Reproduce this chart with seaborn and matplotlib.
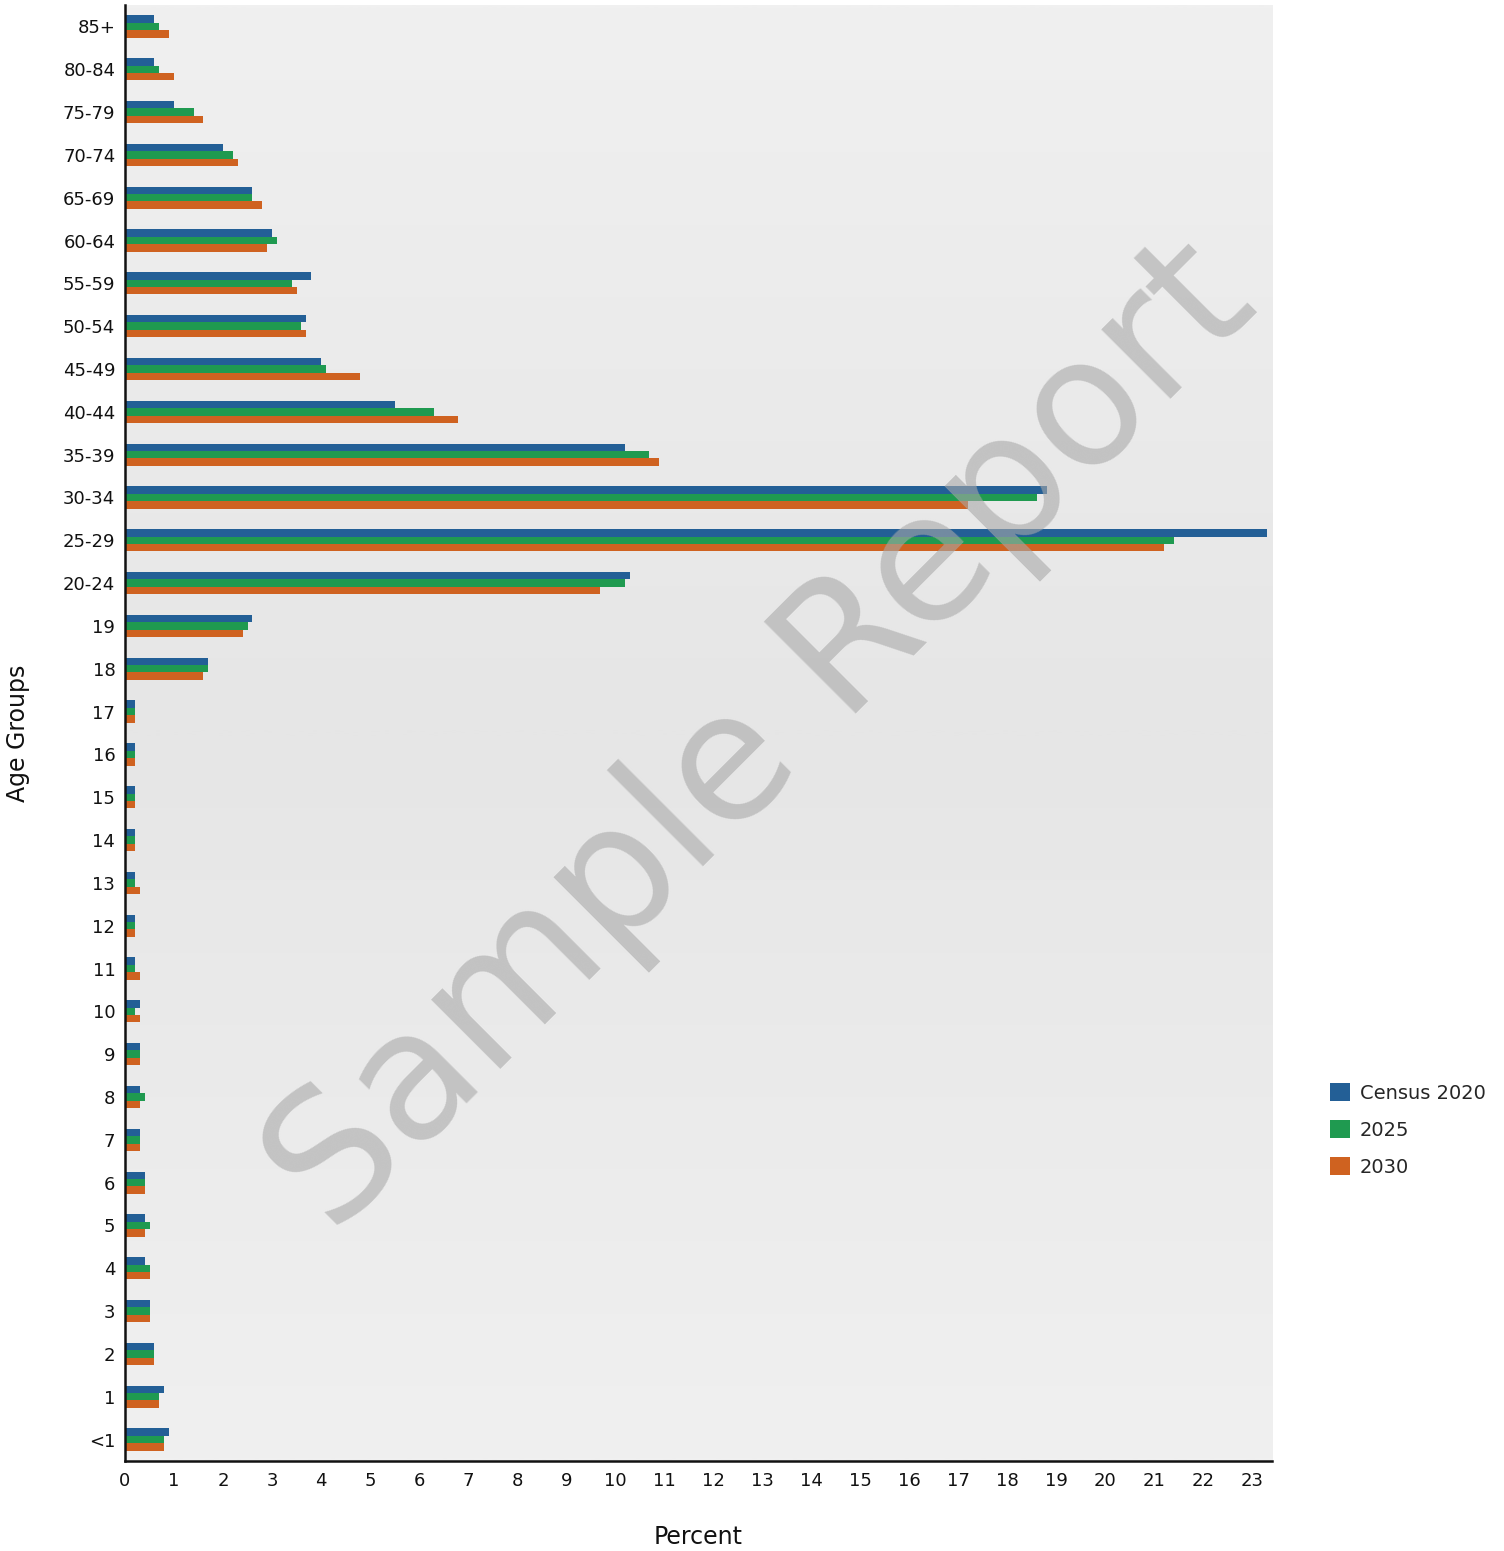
import numpy as np
import pandas as pd
import matplotlib
matplotlib.use("Agg")
import matplotlib.pyplot as plt
import seaborn as sns

age_groups = ["85+", "80-84", "75-79", "70-74", "65-69", "60-64", "55-59", "50-54",
              "45-49", "40-44", "35-39", "30-34", "25-29", "20-24", "19", "18",
              "17", "16", "15", "14", "13", "12", "11", "10", "9", "8", "7", "6",
              "5", "4", "3", "2", "1", "<1"]
census_2020 = [0.6, 0.6, 1.0, 2.0, 2.6, 3.0, 3.8, 3.7, 4.0, 5.5, 10.2, 18.8, 23.3, 10.3,
               2.6, 1.7, 0.2, 0.2, 0.2, 0.2, 0.2, 0.2, 0.2, 0.3, 0.3, 0.3, 0.3, 0.4,
               0.4, 0.4, 0.5, 0.6, 0.8, 0.9]
proj_2025 = [0.7, 0.7, 1.4, 2.2, 2.6, 3.1, 3.4, 3.6, 4.1, 6.3, 10.7, 18.6, 21.4, 10.2,
             2.5, 1.7, 0.2, 0.2, 0.2, 0.2, 0.2, 0.2, 0.2, 0.2, 0.3, 0.4, 0.3, 0.4,
             0.5, 0.5, 0.5, 0.6, 0.7, 0.8]
proj_2030 = [0.9, 1.0, 1.6, 2.3, 2.8, 2.9, 3.5, 3.7, 4.8, 6.8, 10.9, 17.2, 21.2, 9.7,
             2.4, 1.6, 0.2, 0.2, 0.2, 0.2, 0.3, 0.2, 0.3, 0.3, 0.3, 0.3, 0.3, 0.4,
             0.4, 0.5, 0.5, 0.6, 0.7, 0.8]
series_names = ["Census 2020", "2025", "2030"]
series_colors = ["#235f96", "#1f9a50", "#cf6220"]
x_ticks = list(range(0, 24))

df = pd.concat([
    pd.DataFrame({"Age": age_groups, "Percent": vals, "Series": name})
    for name, vals in zip(series_names, [census_2020, proj_2025, proj_2030])
], ignore_index=True)

sns.set_style("white")
plt.rcParams["font.family"] = ["DejaVu Sans"]

n = len(age_groups)
fig = plt.figure(figsize=(15.04, 15.51), dpi=100)
ax = fig.add_axes([125/1504, 1 - 1461/1551, (1272-125)/1504, (1461-5)/1551])

# gradient background
grad = np.concatenate([np.linspace(240, 230, 128), np.linspace(230, 240, 128)]) / 255.0
img = np.dstack([grad, grad, grad]).reshape(256, 1, 3)
ax.imshow(img, extent=[0, 23.4, n - 0.5, -0.5], aspect="auto", zorder=0, interpolation="bilinear")

sns.barplot(data=df, y="Age", x="Percent", hue="Series", orient="h",
            palette=series_colors, order=age_groups, hue_order=series_names,
            width=0.52, saturation=1, linewidth=0, ax=ax, legend=True, zorder=2)

ax.set_xlim(0, 23.4)
ax.set_ylim(n - 0.5, -0.5)
ax.set_xticks(x_ticks)
ax.set_xticklabels([str(t) for t in x_ticks])
ax.tick_params(axis="both", length=0, labelsize=13, colors="#111111")
ax.tick_params(axis="y", pad=7)
ax.tick_params(axis="x", pad=8)
for s in ["top", "right"]:
    ax.spines[s].set_visible(False)
for s in ["left", "bottom"]:
    ax.spines[s].set_color("#111111")
    ax.spines[s].set_linewidth(1.8)
    ax.spines[s].set_zorder(5)
ax.set_xlabel("")
ax.set_ylabel("")
fig.text(18/1504, 1 - 733/1551, "Age Groups", rotation=90, fontsize=17,
         ha="center", va="center", color="#111111")
fig.text(698/1504, 1 - 1537/1551, "Percent", fontsize=17,
         ha="center", va="center", color="#111111")

handles, labels = ax.get_legend_handles_labels()
ax.get_legend().remove()
fig.legend(handles, labels, loc="center left", bbox_to_anchor=(1322/1504, 1 - 1130/1551),
           frameon=False, fontsize=14, handlelength=1.05, handleheight=1.05,
           handletextpad=0.5, labelspacing=0.88, borderaxespad=0)

# watermark
fig.text(762/1504, 1 - 738/1551, "Sample Report", fontsize=128, rotation=45,
         ha="center", va="center", color=(169/255, 169/255, 169/255), alpha=0.6,
         rotation_mode="anchor", zorder=10)

fig.savefig("out.png", dpi=100)
